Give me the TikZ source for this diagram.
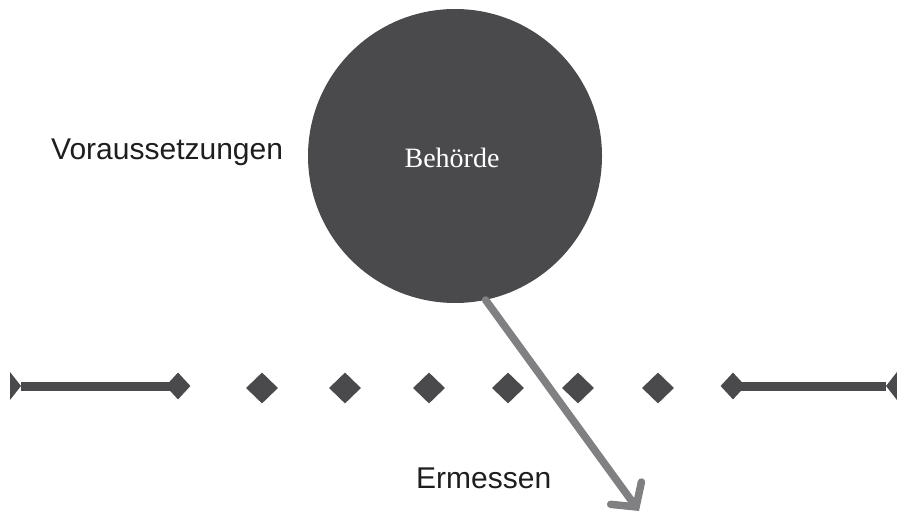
\documentclass[tikz,border=0pt]{standalone}
\usepackage{fontspec}
\setmainfont{Liberation Serif}
\newfontfamily\labelfont{Liberation Sans}
\usetikzlibrary{shapes.geometric,arrows.meta}

\definecolor{circgray}{RGB}{74,74,77}
\definecolor{arrowgray}{RGB}{128,128,130}
\definecolor{textgray}{RGB}{30,30,30}

\newcommand{\liney}{386}
\newcommand{\dotsy}{388}
\newcommand{\barw}{9pt}

\tikzset{
  stopdia/.style={diamond, fill=circgray, inner sep=0pt, minimum width=25pt, minimum height=27pt},
  dotdia/.style={diamond, fill=circgray, inner sep=0pt, minimum width=32pt, minimum height=31pt},
  labeltext/.style={inner sep=0pt, anchor=base west, text=textgray, font=\labelfont\fontsize{30}{34}\selectfont}
}

\begin{document}
\begin{tikzpicture}[x=1pt, y=-1pt]
  \useasboundingbox (0, 0) rectangle (897, 513);

  \node [circle, fill=circgray, minimum size=294pt, inner sep=0pt] (behoerde) at (455, 156) {};
  \node [anchor=base, inner sep=0pt, text=white, font=\fontsize{28}{32}\selectfont] (behtext) at (452, 168) {Behörde};

  \node [labeltext] (vor) at (51, 160) {Voraussetzungen};
  \node [labeltext] (erm) at (416, 488) {Ermessen};

  % left and right bars
  \coordinate (L) at (21, \liney);
  \coordinate (R) at (886, \liney);
  \node [stopdia] (ldia) at (178, \liney) {};
  \node [stopdia] (rdia) at (733, \liney) {};
  \fill [circgray] (10, 372) -- (L) -- (10, 400) -- cycle;
  \fill [circgray] (897, 372) -- (R) -- (897, 400) -- cycle;
  \draw [circgray, line width=\barw] (L) -- (ldia.center);
  \draw [circgray, line width=\barw] (rdia.center) -- (R);

  % dots
  \foreach \x [count=\i] in {262, 345, 429, 508, 578, 658}
    \node [dotdia] (d\i) at (\x, \dotsy) {};

  % arrow
  \coordinate (tip) at (639, 511);
  \draw [arrowgray, line width=7.5pt, line cap=round,
    -{Straight Barb[length=17pt, width=38pt, line cap=round]}] (behoerde.-78) -- (tip);
\end{tikzpicture}
\end{document}
